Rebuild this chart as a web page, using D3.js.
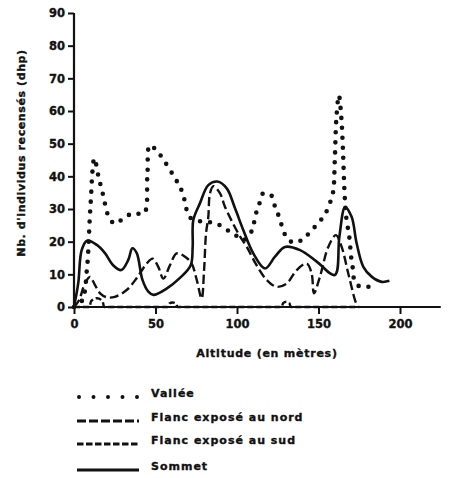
<!DOCTYPE html>
<html><head><meta charset="utf-8">
<script src="https://cdn.jsdelivr.net/npm/d3@7"></script>
<style>body{margin:0;background:#fff}svg{display:block}text{font-family:"DejaVu Sans",sans-serif;font-weight:bold;fill:#111;stroke:#111;stroke-width:0.35px}</style>
</head><body><svg id="c" width="454" height="478"></svg>
<script>
// ---- data ----
const xTicks = [0, 50, 100, 150, 200];
const yTicks = [0, 10, 20, 30, 40, 50, 60, 70, 80, 90];
const xLabel = "Altitude (en mètres)";
const yLabel = "Nb. d'individus recensés (dhp)";
const seriesNames = ["Vallée", "Flanc exposé au nord", "Flanc exposé au sud", "Sommet"];

// [altitude, nb]
const vallee = [[0,0],[5,2],[8,12],[10,30],[12.5,45.5],[15,40],[18,34],[21,28],[25,25.5],[30,27],[36,28.7],[43,28.7],[45,40],[46.5,49.5],[51,47.7],[55,45],[62,39.4],[65.4,36.4],[67.5,33.3],[71,27.5],[77,26.3],[83,26],[88,25.4],[93.5,23.7],[99,22],[104,20.5],[109.6,23.8],[111,27.6],[113.5,31.2],[115.5,34.6],[118,34.8],[121,34.2],[123,31.2],[125.8,27.6],[130,21.7],[134.6,19.7],[140.7,20.8],[144.8,23],[149.9,25.7],[154,28.4],[157,31.8],[159,35.3],[160,45],[161,58],[162.5,64.8],[164,58],[165,48],[166,34.8],[167,27.6],[169,21],[170,15.4],[171,12],[172,8.3],[175.5,6.2],[182.6,6.4]];
const nord = [[0,0],[3,2],[6.7,7.2],[9.8,9.2],[12.9,6.7],[16,4.2],[20,3],[25,3.1],[32.3,5.2],[38.4,8.8],[44.6,13.3],[48.3,14.8],[51.7,12.3],[54.8,8.7],[58.9,12.8],[63,16.4],[68.1,15.4],[72.2,13.3],[75.3,8.3],[78.3,2.6],[79.8,11.3],[81,22.5],[82.4,27.6],[83.4,34.7],[85.5,37],[89.6,34.8],[92.6,30.7],[100.8,22.5],[106,18.4],[112,12.8],[118.2,8.3],[124.3,6.2],[130.5,7.2],[136.6,11.3],[142.8,13.3],[145.8,10.2],[147.2,4.2],[150.9,9.3],[156,18.4],[160.7,22],[164.2,18.4],[168.3,10.2],[172.4,2.1],[174,0]];
const sud = [[0,0],[9.5,0],[10.5,1.8],[14,2.7],[17.5,1.8],[18.5,0],[57.5,0],[58.5,1.1],[60.5,1.4],[62.5,1.1],[63.5,0],[127.4,0],[128.3,1.2],[130.2,1.6],[132.1,1.2],[133,0],[175,0]];
const sommet = [[0,0],[2.6,7.3],[4.7,17.4],[8,20.3],[14,19],[19,16.5],[24,12.8],[29,11.3],[33.3,14.4],[35.8,18],[38.5,16.5],[42,8.3],[45.6,4.7],[48.7,3.7],[57,5.7],[65,8.9],[71.6,12.8],[72.8,18.4],[73.2,26.6],[77.3,31.8],[82.4,37.3],[88,38.4],[93.7,36.3],[98.8,30.2],[103.9,23.5],[110,16.4],[117.2,11.8],[123.3,15.4],[129.4,18.4],[138.7,17.4],[148.9,13.9],[160,9.8],[162.8,21.5],[166.3,30.5],[170.3,27.6],[173.4,19.5],[177.5,12.3],[182.6,9.3],[188.7,7.7],[193.5,8]];

// ---- chart ----
const svg = d3.select("#c");
const x = d3.scaleLinear().domain([0, 225]).range([74, 440.75]);
const y = d3.scaleLinear().domain([0, 90]).range([307, 13]);

const styles = [
  {data: vallee, dash: "0 10", w: 4.6, cap: "round", curve: d3.curveCatmullRom.alpha(0.5), legDash: "0 14.5"},
  {data: nord, dash: "9 4", w: 2.4, cap: "butt", curve: d3.curveCatmullRom.alpha(0.5), legDash: "9 3"},
  {data: sud, dash: "6 3", w: 2.4, cap: "butt", curve: d3.curveMonotoneX, legDash: "6.5 2.5"},
  {data: sommet, dash: null, w: 2.6, cap: "butt", curve: d3.curveCatmullRom.alpha(0.5), legDash: null}
];

const line = d3.line().x(d => x(d[0])).y(d => y(d[1]));

styles.forEach(s => {
  svg.append("path")
    .attr("d", line.curve(s.curve)(s.data))
    .attr("fill", "none").attr("stroke", "#111")
    .attr("stroke-width", s.w).attr("stroke-linecap", s.cap)
    .attr("stroke-linejoin", "round")
    .attr("stroke-dasharray", s.dash);
});

// axes
const yAxis = svg.append("g").attr("transform", "translate(74,0)")
  .call(d3.axisLeft(y).tickValues(yTicks).tickSize(6).tickPadding(3));
const xAxis = svg.append("g").attr("transform", "translate(0,307)")
  .call(d3.axisBottom(x).tickValues(xTicks).tickSize(7).tickPadding(6));
[yAxis, xAxis].forEach(g => {
  g.select(".domain").attr("stroke", "#111").attr("stroke-width", 2.2);
  g.selectAll(".tick line").attr("stroke", "#111").attr("stroke-width", 2);
  g.selectAll(".tick text").style("font-family", "'DejaVu Sans',sans-serif")
    .style("font-weight", "bold").style("font-size", "11.5px").attr("fill", "#111");
});
yAxis.select(".domain").attr("d", "M0,13V307");
xAxis.select(".domain").attr("d", "M74,0H440.75");

svg.append("text").attr("x", 267).attr("y", 357).attr("text-anchor", "middle")
  .style("font-size", "11px").style("letter-spacing", "0.75px").text(xLabel);
svg.append("text").attr("transform", "translate(25,153) rotate(-90)")
  .attr("text-anchor", "middle").style("font-size", "11px").style("letter-spacing", "0.6px").text(yLabel);

// legend
const legY = [397, 421, 444, 470];
styles.forEach((s, i) => {
  svg.append("line").attr("x1", s.cap === "round" ? 79 : 77).attr("x2", 139)
    .attr("y1", legY[i]).attr("y2", legY[i])
    .attr("stroke", "#111").attr("stroke-width", s.cap === "round" ? 4 : 2.8)
    .attr("stroke-linecap", s.cap).attr("stroke-dasharray", s.legDash);
  svg.append("text").attr("x", 151).attr("y", legY[i] - 0.5)
    .style("font-size", "11px").style("letter-spacing", "1px").text(seriesNames[i]);
});
</script></body></html>
